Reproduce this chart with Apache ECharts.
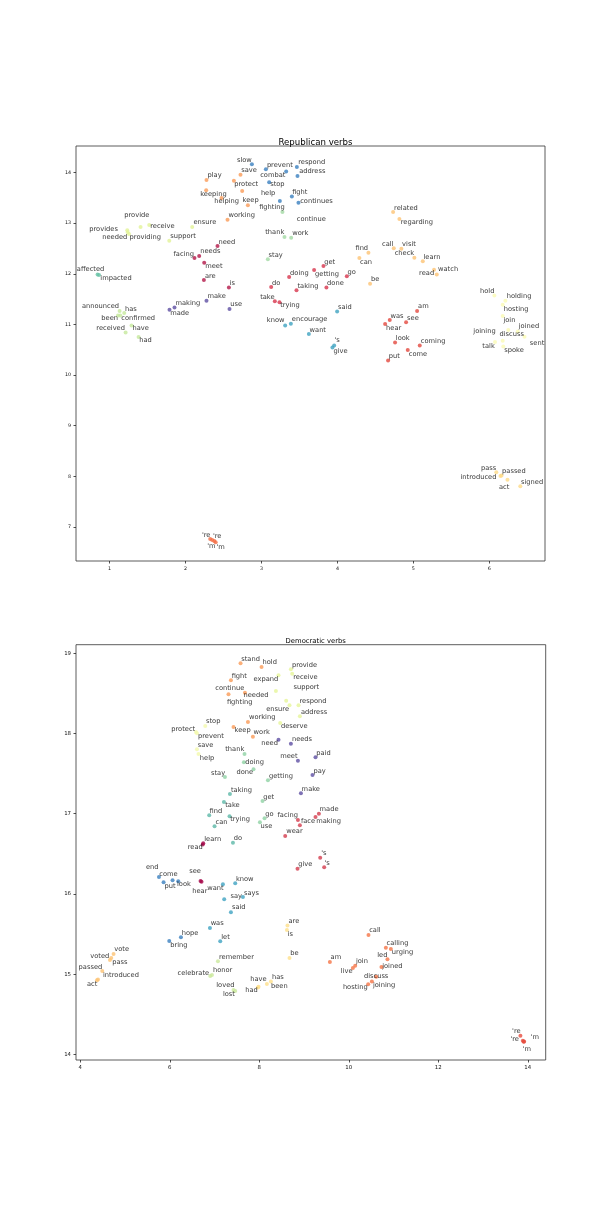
<!DOCTYPE html>
<html><head><meta charset="utf-8">
<script src="https://cdn.jsdelivr.net/npm/echarts@6/dist/echarts.min.js"></script>
<style>html,body{margin:0;padding:0;background:#fff}#c{width:606px;height:1212px}</style>
</head><body><div id="c"></div>
<script>
// ---------- Republican verbs ----------
const repWords = ["slow","prevent","respond","save","combat","address","play","protect","stop","keeping",
"help","helping","keep","fighting","fight","continues","continue","working","provide","receive",
"provides","needed","providing","ensure","support","thank","work","need","facing","needs",
"meet","stay","affected","impacted","are","is","do","doing","taking","take",
"trying","make","making","made","use","announced","has","been","confirmed","have",
"received","had","know","encourage","want","related","regarding","call","visit","check",
"learn","find","can","watch","read","get","getting","go","done","be",
"hold","holding","hosting","join","joined","joining","discuss","sent","talk","spoke",
"said","am","was","see","hear","look","coming","come","put","'s",
"give","pass","introduced","passed","act","signed","'re","'re","'m","'m"];
const repX = [2.874,3.058,3.466,2.724,3.325,3.474,2.276,2.637,3.101,2.272,
2.746,2.474,2.821,3.242,3.400,3.487,3.276,2.553,1.408,1.522,
1.233,1.239,1.255,2.088,1.786,3.303,3.391,2.421,2.118,2.180,
2.246,3.084,0.842,0.861,2.242,2.571,3.128,3.364,3.461,3.176,
3.237,2.276,1.855,1.789,2.579,1.132,1.193,1.111,1.141,1.289,
1.211,1.382,3.312,3.387,3.624,4.733,4.816,4.742,4.842,5.013,
5.124,4.408,4.289,5.272,5.308,3.816,3.693,4.124,3.855,4.430,
6.066,6.211,6.176,6.176,6.374,6.250,6.176,6.463,6.075,6.184,
3.996,5.049,4.689,4.904,4.628,4.759,5.084,4.926,4.667,3.957,
3.934,6.092,6.147,6.161,6.239,6.408,2.325,2.351,2.378,2.397];
const repY = [14.164,14.065,14.111,13.960,14.020,13.933,13.854,13.842,13.808,13.650,
13.636,13.498,13.354,13.439,13.526,13.407,13.221,13.071,12.925,12.964,
12.860,12.820,12.787,12.925,12.656,12.727,12.715,12.549,12.312,12.352,
12.221,12.287,11.990,11.976,11.877,11.733,11.739,11.937,11.674,11.457,
11.437,11.470,11.338,11.292,11.304,11.265,11.225,11.180,11.180,10.982,
10.844,10.751,10.982,11.016,10.810,13.221,13.083,12.504,12.498,12.320,
12.247,12.419,12.312,12.083,11.990,12.154,12.075,11.951,11.733,11.806,
11.575,11.470,11.391,11.166,10.864,10.889,10.680,10.759,10.652,10.567,
11.259,11.265,11.087,11.042,11.008,10.646,10.587,10.494,10.291,10.587,
10.547,8.083,8.008,8.018,7.933,7.806,6.763,6.743,6.723,6.700];
const repGroup = ["B","B","B","O","B","B","O","O","B","O",
"O","O","O","B","B","B","G","O","YG","YG",
"YG","YG","YG","YG","YG","G","G","C","C","C",
"C","G","T","T","C","C","R","R","R","R",
"R","P","P","P","P","LG","LG","LG","LG","LG",
"LG","LG","CY","CY","CY","LO","LO","LO","LO","LO",
"LO","LO","LO","LO","LO","R","R","R","R","LO",
"PY","PY","PY","PY","PY","PY","PY","PY","PY","PY",
"CY","RO","RO","RO","RO","RO","RO","RO","RO","CY",
"CY","Y","Y","Y","Y","Y","OR","OR","OR","OR"];
const repLabelDx = [-15,1,1.3,0.7,-26,1.7,1,0.3,1,-6,
18.7,-7.3,-5.3,-20.7,0.3,1.7,14.3,1,-16.3,1,
-38,-25.5,0.6,1.3,1,-19.3,1,1,-21,1,
1,0.7,-20.7,1.3,1,0.7,0.7,1,1,-14.7,
0.7,1,1,0.7,0.7,-37.7,0.7,-16.7,1,1,
-29.3,0.7,-18.3,1,0.7,1,1.3,-11.7,0.7,-19.7,
0.7,-13,0.7,4,-17.7,0.7,1,0.7,0.7,1,
-14.3,1.3,1,0.7,1,-35,-3.3,5.3,-12.7,1,
1,1,0.7,1,1,0.7,1,1,0.7,0.3,
1,-15.3,-40,0.5,-8.5,0.7,-8.3,0.7,-7,0.8];
const repLabelDy = [-4,-4.3,-4.3,-4,3.3,-4.3,-4.3,3.7,2,3.7,
2.3,3.3,-4.7,6,-4.3,-1.3,7,-4.7,-12,1,
-1,5.3,3.6,-4.7,-4,-4.7,-4.3,-4.3,-4,-5,
3.7,-4,-4.7,3.3,-4,-4,-4.3,-4.3,-4.3,-4,
3.3,-4.7,-4.3,4,-5,-5,-4.3,3.3,3.3,3,
-4,3.3,-4.7,-4.3,-3.7,-4,3.7,-4.3,-4.3,-4,
-4.3,-4.7,3.7,-0.3,-0.7,-3.7,3.7,-4,-4.3,-4,
-4.3,-4.3,4.3,3.7,-5.3,1.3,-6.3,6.7,4,4,
-4.3,-4.7,-4,-4.3,3.7,-4.3,-4.3,3.7,-4,-4.7,
3.7,-4,1.2,-3.7,7.2,-4.4,-4.2,-3.8,5.2,4.6];
const repXTicks = [1,2,3,4,5,6];
const repYTicks = [7,8,9,10,11,12,13,14];

// ---------- Democratic verbs ----------
const demWords = ["stand","hold","provide","receive","fight","expand","needed","support","ensure","respond",
"address","deserve","continue","fighting","working","stop","protect","prevent","keep","work",
"save","help","need","needs","thank","doing","meet","paid","stay","done",
"getting","pay","make","taking","get","take","find","trying","go","facing",
"face","making","made","can","use","wear","learn","read","do","'s",
"'s","give","end","come","put","look","see","hear","want","know",
"say","says","said","was","hope","bring","let","are","is","be",
"vote","voted","pass","passed","introduced","act","remember","celebrate","honor","loved",
"lost","have","had","has","been","call","calling","urging","led","am",
"join","live","joined","discuss","joining","hosting","'re","'re","'m","'m"];
const demX = [7.581,8.050,8.706,8.735,7.366,8.429,8.371,8.601,8.675,8.876,
8.907,8.467,7.679,7.312,7.746,6.792,6.584,6.607,7.424,7.857,
6.607,6.642,8.429,8.706,7.670,7.656,8.863,9.256,7.232,7.871,
8.193,9.189,8.930,7.344,8.072,7.210,6.881,7.335,8.117,8.863,
8.907,9.256,9.332,7.000,8.014,8.579,6.747,6.736,7.411,9.361,
9.450,8.854,5.758,5.861,6.062,6.189,6.687,6.709,7.187,7.462,
7.216,7.634,7.366,6.897,6.249,5.988,7.127,8.630,8.617,8.675,
4.744,4.692,4.663,4.491,4.395,4.373,7.076,6.904,6.942,7.424,
7.462,7.983,7.969,8.260,8.170,10.440,10.828,10.940,10.864,9.577,
10.143,10.091,10.730,10.612,10.516,10.433,13.835,13.888,13.917,13.910];
const demY = [18.875,18.829,18.800,18.746,18.663,18.726,18.530,18.409,18.352,18.352,
18.214,18.131,18.509,18.489,18.143,18.094,18.019,18.002,18.081,17.960,
17.803,17.744,17.923,17.873,17.744,17.641,17.661,17.703,17.458,17.554,
17.416,17.483,17.254,17.246,17.158,17.146,16.980,16.968,16.943,16.921,
16.855,16.959,17.000,16.843,16.893,16.722,16.631,16.616,16.638,16.451,
16.332,16.314,16.211,16.145,16.170,16.157,16.161,16.152,16.120,16.132,
15.933,15.961,15.771,15.575,15.459,15.413,15.409,15.608,15.550,15.201,
15.251,15.201,15.176,15.039,14.935,14.923,15.160,14.976,14.989,14.802,
14.789,14.843,14.833,14.910,14.877,15.488,15.329,15.313,15.185,15.151,
15.105,15.076,15.089,14.968,14.910,14.873,14.232,14.170,14.162,14.157];
const demGroup = ["O","O","YG","YG","O","YG","YG","YG","YG","YG",
"YG","YG","O","O","O","PY","PY","PY","O","O",
"PY","PY","P","P","LGr","LGr","P","P","LGr","LGr",
"LGr","P","P","T","LGr","T","T","T","LGr","CR",
"CR","CR","CR","T","LGr","CR","M","M","T","CR",
"CR","CR","B","B","B","B","M","M","CY","CY",
"CY","CY","CY","CY","B","B","CY","YE","YE","YE",
"LO","LO","LO","LO","LO","LO","LG","LG","LG","LG",
"LG","YE","YE","YE","YE","OR","OR","OR","OR","OR",
"OR","OR","OR","OR","OR","OR","RD","RD","RD","RD"];
const demLabelDx = [0.7,1,1,1,0.7,-25,-32.4,7.3,-23.3,1,
1,0.7,-29.7,-1.6,1,0.7,-24.7,1,1,0.7,
0.7,1.3,-17.3,1,-19.3,1.3,-17.7,0.7,-14,-17,
1,1,0.7,1,0.7,1.3,0.3,0.7,0.7,-20.4,
1,0.7,0.7,1,0.7,1,1,-15,0.7,1,
0.3,0.7,-13,-4.3,-8,-1.3,-11.3,-9.3,-15.7,0.7,
6.3,1,1,0.7,0.7,1,1,1,0.7,0.7,
0.7,-21,2.3,-23.7,5,-10,1,-32.7,1,-17.3,
-12.3,-8.3,-12.7,1,4,0.7,0.7,1,-10.3,0.7,
0.7,-12,0.7,-12.3,1,-25.3,-8.3,-12.4,6.7,-1];
const demLabelDy = [-4,-4.3,-4,4,-4.3,4,4,-13.4,4,-4.3,
-4.3,3.7,-4.4,7.7,-4.3,-4.3,-2.7,2.7,3.3,-4.7,
-4,4,4,-4.7,-4.7,0,-4.4,-4,-4,3.4,
-4.3,-4,-4.3,-4,-4,3.7,-4.3,3.3,-4.3,-4.7,
-4,4.3,-4.3,-4,3.7,-4.3,-4,3,-4.3,-5,
-4,-4.7,-9.3,-8.3,6,2.7,-9.3,10,4,-3.7,
-2.6,-4.3,-4.7,-4.3,-4,4.3,-4.3,-4.3,4,-4.3,
-4.7,-1.7,2.3,-4,-4,4,-4.3,-3.3,-4.3,-4.7,
3.3,-7.4,2.5,-4.3,2,-4.3,-4.7,3.7,-4,-4.3,
-4,3.3,-0.3,0,3.7,3.4,-4.4,-1.4,-4.3,7.6];
const demXTicks = [4,6,8,10,12,14];
const demYTicks = [14,15,16,17,18,19];

// ---------- styles ----------
const repPalette = {B:"#3a7fbf",O:"#fa9b58",G:"#a2d9a4",YG:"#e2f397",C:"#b31848",R:"#d7354c",
  T:"#66c2a5",P:"#5e4fa2",LG:"#c6e89c",CY:"#3ea2c0",LO:"#fdc374",RO:"#e4483f",PY:"#fafab4",
  Y:"#fedb87",OR:"#f46d43"};
const demPalette = {O:"#fa9b58",YG:"#e6f59a",PY:"#f2f9ac",LGr:"#8fd2a4",T:"#5cb8a7",P:"#5e4fa2",
  CR:"#d33c4e",M:"#a5084a",B:"#3a7fbf",CY:"#3fa3c2",YE:"#fee08b",LO:"#fdc374",LG:"#cbe99c",
  OR:"#f57446",RD:"#e64c3f"};

const SYM = 4, R = SYM / 2;
const FONT = "DejaVu Sans";

function buildData(words, xs, ys, groups, dxs, dys, palette) {
  return words.map((w, i) => ({
    name: w,
    value: [xs[i], ys[i]],
    itemStyle: { color: palette[groups[i]] },
    label: { position: [dxs[i] + R, dys[i] + R] }
  }));
}

function axisPair(gi, xmin, xmax, ymin, ymax, xt, yt, fs) {
  const common = {
    type: "value", gridIndex: gi, scale: true,
    axisLine: { show: false },
    splitLine: { show: false },
    axisTick: { show: true, length: 2.5, lineStyle: { color: "#222", width: 0.8 } },
    axisLabel: { fontSize: fs, color: "#111", fontFamily: FONT, margin: 5 }
  };
  const x = JSON.parse(JSON.stringify(common));
  x.min = xmin; x.max = xmax;
  x.axisTick.customValues = xt; x.axisLabel.customValues = xt;
  const y = JSON.parse(JSON.stringify(common));
  y.min = ymin; y.max = ymax;
  y.axisTick.customValues = yt; y.axisLabel.customValues = yt;
  return [x, y];
}

const [rx, ry] = axisPair(0, 0.558, 6.733, 6.328, 14.526, repXTicks, repYTicks, 4.8);
const [dx, dy] = axisPair(1, 3.904, 14.40, 13.93, 19.107, demXTicks, demYTicks, 5.4);

const labelStyle = {
  show: true, formatter: "{b}", align: "left", verticalAlign: "middle",
  fontSize: 6.7, fontFamily: FONT, color: "#000"
};

const chart = echarts.init(document.getElementById("c"), null, { renderer: "canvas" });
chart.setOption({
  backgroundColor: "#ffffff",
  animation: false,
  title: [
    { text: "Republican verbs", left: 310.5, top: 133.5, textAlign: "center",
      textStyle: { fontSize: 8.6, fontWeight: "normal", color: "#000", fontFamily: FONT } },
    { text: "Democratic verbs", left: 310.7, top: 632.5, textAlign: "center",
      textStyle: { fontSize: 6.8, fontWeight: "normal", color: "#000", fontFamily: FONT } }
  ],
  grid: [
    { left: 76, right: 61, top: 146, height: 415, show: true, borderColor: "#333", borderWidth: 0.8 },
    { left: 76, right: 60.3, top: 644.7, height: 415.3, show: true, borderColor: "#333", borderWidth: 0.8 }
  ],
  xAxis: [rx, dx],
  yAxis: [ry, dy],
  series: [
    { type: "scatter", xAxisIndex: 0, yAxisIndex: 0, symbolSize: SYM,
      label: labelStyle,
      data: buildData(repWords, repX, repY, repGroup, repLabelDx, repLabelDy, repPalette) },
    { type: "scatter", xAxisIndex: 1, yAxisIndex: 1, symbolSize: SYM,
      label: labelStyle,
      data: buildData(demWords, demX, demY, demGroup, demLabelDx, demLabelDy, demPalette) }
  ]
});
</script></body></html>
